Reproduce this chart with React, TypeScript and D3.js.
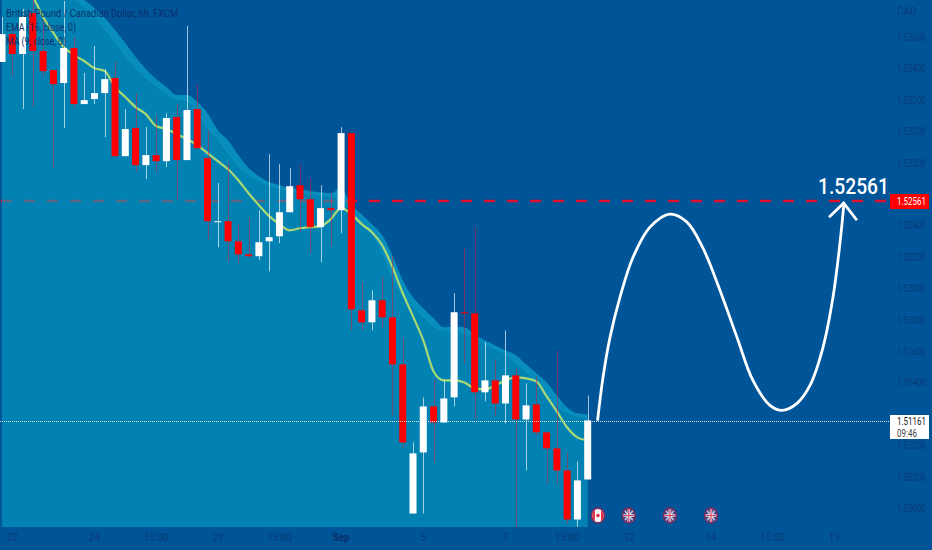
import React from "react";
import * as d3 from "d3";

const opens = [1.53444,1.53622,1.53495,1.53756,1.53514,1.53393,1.53310,1.53533,1.53176,1.53208,1.53246,1.53342,1.52844,1.53023,1.52787,1.52851,1.52812,1.53093,1.52819,1.53144,1.52832,1.52424,1.52430,1.52302,1.52219,1.52207,1.52302,1.52334,1.52487,1.52659,1.52570,1.52392,1.52513,1.52500,1.52991,1.51862,1.51786,1.51926,1.51818,1.51518,1.50568,1.50957,1.51250,1.51148,1.51308,1.51850,1.51843,1.51340,1.51416,1.51269,1.51448,1.51167,1.51263,1.51085,1.50983,1.50842,1.50530,1.50785];
const closes = [1.53622,1.53495,1.53731,1.53514,1.53386,1.53303,1.53533,1.53176,1.53201,1.53246,1.53335,1.52844,1.53017,1.52787,1.52851,1.52812,1.53087,1.52819,1.53138,1.52895,1.52430,1.52430,1.52302,1.52219,1.52207,1.52296,1.52328,1.52487,1.52653,1.52570,1.52392,1.52513,1.52500,1.52991,1.51869,1.51786,1.51926,1.51818,1.51518,1.51021,1.50951,1.51250,1.51148,1.51301,1.51850,1.51843,1.51340,1.51416,1.51269,1.51448,1.51167,1.51257,1.51085,1.50983,1.50842,1.50530,1.50779,1.51161];
const highs = [1.53731,1.53667,1.53782,1.53839,1.53711,1.53393,1.53833,1.53603,1.53374,1.53546,1.53399,1.53450,1.53144,1.53246,1.53029,1.53106,1.53118,1.53176,1.53673,1.53303,1.53010,1.52672,1.52800,1.52411,1.52455,1.52500,1.52857,1.52793,1.52768,1.52793,1.52704,1.52659,1.52608,1.53029,1.52991,1.52041,1.51990,1.52079,1.52207,1.51684,1.51021,1.51308,1.51422,1.51416,1.51971,1.52258,1.52392,1.51658,1.51550,1.51735,1.51493,1.51397,1.51442,1.51085,1.51607,1.50957,1.50900,1.51320];
const lows = [1.53444,1.53354,1.53144,1.53157,1.53354,1.52768,1.53023,1.53150,1.53176,1.53176,1.52965,1.52838,1.52844,1.52742,1.52698,1.52742,1.52774,1.52564,1.52819,1.52895,1.52315,1.52264,1.52175,1.52162,1.52194,1.52181,1.52111,1.52290,1.52487,1.52360,1.52226,1.52168,1.52271,1.52353,1.51735,1.51735,1.51735,1.51754,1.51193,1.50983,1.50568,1.50568,1.50893,1.51148,1.51250,1.51525,1.51167,1.51282,1.51187,1.51142,1.50479,1.50842,1.51065,1.50759,1.50753,1.50498,1.50479,1.50785];
const upperBand = [1.54285,1.54222,1.54158,1.54094,1.54030,1.53979,1.53928,1.53877,1.53839,1.53788,1.53724,1.53648,1.53565,1.53476,1.53399,1.53335,1.53284,1.53233,1.53233,1.53189,1.53118,1.53010,1.52946,1.52851,1.52768,1.52717,1.52679,1.52659,1.52640,1.52634,1.52621,1.52615,1.52608,1.52640,1.52532,1.52475,1.52411,1.52341,1.52213,1.52054,1.51945,1.51875,1.51811,1.51754,1.51760,1.51754,1.51709,1.51671,1.51639,1.51607,1.51576,1.51518,1.51461,1.51403,1.51320,1.51244,1.51206,1.51199];
const innerBand = [1.54222,1.54158,1.54094,1.54030,1.53979,1.53928,1.53877,1.53839,1.53788,1.53724,1.53648,1.53565,1.53476,1.53399,1.53335,1.53284,1.53233,1.53200,1.53189,1.53118,1.53010,1.52946,1.52851,1.52768,1.52717,1.52679,1.52650,1.52630,1.52615,1.52605,1.52595,1.52590,1.52580,1.52560,1.52475,1.52411,1.52341,1.52213,1.52054,1.51945,1.51875,1.51811,1.51754,1.51730,1.51730,1.51709,1.51671,1.51639,1.51607,1.51576,1.51518,1.51461,1.51403,1.51320,1.51244,1.51206,1.51180,1.51170];
const ema = [1.54126,1.54030,1.53935,1.53858,1.53731,1.53629,1.53539,1.53488,1.53450,1.53405,1.53386,1.53284,1.53221,1.53157,1.53112,1.53036,1.53017,1.52985,1.52953,1.52914,1.52863,1.52812,1.52761,1.52691,1.52608,1.52532,1.52462,1.52411,1.52372,1.52385,1.52392,1.52398,1.52443,1.52513,1.52475,1.52411,1.52360,1.52277,1.52137,1.51971,1.51824,1.51671,1.51473,1.51416,1.51416,1.51403,1.51365,1.51358,1.51384,1.51416,1.51435,1.51429,1.51410,1.51314,1.51218,1.51116,1.51053,1.51034];

const forecastIdx = [57.97,58.49,59.17,60.14,61.41,63.06,65.0,66.66,68.22,69.87,71.53,73.08,74.74,75.9,77.37,78.63,79.9,80.87,81.55,81.94];
const forecastPrice = [1.51167,1.51435,1.5169,1.51945,1.522,1.52392,1.52475,1.52424,1.52258,1.5199,1.5169,1.51416,1.51257,1.51225,1.5127,1.51384,1.51627,1.51945,1.5229,1.52545];
const arrowIdx = [80.48,81.91,83.2];
const arrowPrice = [1.52455,1.52545,1.52436];

const priceTicks = [1.536,1.534,1.532,1.53,1.528,1.524,1.522,1.52,1.518,1.516,1.514,1.51,1.508,1.506];
const timeTicks: [number, string, boolean][] = [[1,"22",false],[9,"24",false],[15,"15:00",false],[21,"29",false],[27,"15:00",false],[33,"Sep",true],[41,"5",false],[49,"7",false],[55,"15:00",false],[61,"12",false],[69,"14",false],[75,"15:00",false],[81,"19",false]];
const events: [number, string][] = [[58,"CA"],[61,"GB"],[65,"GB"],[69,"GB"]];
const legend = ["British Pound / Canadian Dollar, 6h, FXCM","EMA (16, close, 0)","MA (9, close, 0)"];
const legendWidths = [172,70,60];
const targetPrice = 1.52561;
const lastPrice = 1.51161;

const W = 932, H = 550, PLOT_B = 527, PLOT_R = 890;
const BG = "#005498", AXIS = "#0b3a78", FONT = "Roboto, 'Liberation Sans', sans-serif";
const NARROW = 0.8;

export default function App() {
  const x = d3.scaleLinear().domain([0, 57]).range([2, 587.7]);
  const y = d3.scaleLinear().domain([1.536, 1.506]).range([37.5, 508.5]);
  const idx = d3.range(opens.length);
  const stripArea = d3.area<number>().x(i => x(i)).y0(i => y(innerBand[i])).y1(i => y(upperBand[i])).curve(d3.curveMonotoneX);
  const mainArea = d3.area<number>().x(i => x(i)).y0(PLOT_B).y1(i => y(innerBand[i])).curve(d3.curveMonotoneX);
  const emaLine = d3.line<number>().x(i => x(i)).y(i => y(ema[i])).curve(d3.curveMonotoneX);
  const forecast = d3.line<number>().x((_, k) => x(forecastIdx[k])).y((_, k) => y(forecastPrice[k])).curve(d3.curveCatmullRom);
  const arrow = d3.line<number>().x((_, k) => x(arrowIdx[k])).y((_, k) => y(arrowPrice[k]));
  const tY = y(targetPrice) + 0.4;
  const lY = Math.ceil(y(lastPrice)) + 0.5;
  return (
    <svg width={W} height={H} style={{ position: "absolute", left: 0, top: 0, fontFamily: FONT }}>
      <defs>
        <clipPath id="plot"><rect x={0} y={0} width={PLOT_R} height={PLOT_B} /></clipPath>
        <clipPath id="ev"><ellipse cx={0} cy={0} rx={5.6} ry={6.6} /></clipPath>
      </defs>
      <rect width={W} height={H} fill={BG} />
      <g clipPath="url(#plot)">
        <line x1={1} x2={PLOT_R} y1={tY} y2={tY} stroke="#e0102e" strokeWidth={2.6} strokeDasharray="11 12" />
        <path d={stripArea(idx) ?? ""} fill="rgb(13,181,212)" fillOpacity={0.6} />
        <path d={mainArea(idx) ?? ""} fill="rgb(3,161,197)" fillOpacity={0.6} />
        <path d={emaLine(idx) ?? ""} fill="none" stroke="#a9d975" strokeWidth={2.2} />
        {idx.map(i => {
          const up = closes[i] >= opens[i];
          const cx = Math.round(x(i)) + 0.5;
          return <line key={i} x1={cx} x2={cx} y1={y(highs[i])} y2={y(lows[i])} stroke={up ? "#ffffff" : "#d81a38"} strokeOpacity={up ? 0.65 : 0.5} strokeWidth={1} />;
        })}
        {idx.map(i => {
          const up = closes[i] >= opens[i];
          const t = y(Math.max(opens[i], closes[i]));
          const b = y(Math.min(opens[i], closes[i]));
          return <rect key={i} x={x(i) - 3.5} y={t} width={7} height={Math.max(b - t, 1)} fill={up ? "#ffffff" : "#ff0000"} />;
        })}
      </g>
      <line x1={0} x2={PLOT_R} y1={lY} y2={lY} stroke="#ffffff" strokeOpacity={0.85} strokeWidth={1} strokeDasharray="1 1" />
      <path d={forecast(forecastIdx) ?? ""} fill="none" stroke="#ffffff" strokeWidth={2.8} strokeLinecap="round" />
      <path d={arrow(arrowIdx) ?? ""} fill="none" stroke="#ffffff" strokeWidth={2.8} />
      <text x={818} y={194} fill="#ffffff" fontSize={22.5} fontWeight={500} textLength={71} lengthAdjust="spacingAndGlyphs">1.52561</text>

      {legend.map((t, i) => (
        <text key={t} x={6} y={17 + i * 14} fontSize={10.5} fill="#0c2f6a" textLength={legendWidths[i]} lengthAdjust="spacingAndGlyphs">{t}</text>
      ))}

      <text x={897} y={15} fontSize={10} fill={AXIS}>CAD</text>
      {priceTicks.map(p => (
        <text key={p} transform={`translate(897,${y(p) + 3.5}) scale(${NARROW},1)`} fontSize={10} fill={AXIS}>{p.toFixed(5)}</text>
      ))}
      {timeTicks.map(([i, t, bold]) => (
        <text key={i} x={x(i)} y={541} fontSize={10} textAnchor="middle" fontWeight={bold ? 700 : 400} fill={bold ? "#0c2f6a" : AXIS}>{t}</text>
      ))}

      {events.map(([i, code]) => (
        <g key={i} transform={`translate(${x(i)},515.5)`}>
          <ellipse rx={7.2} ry={8.2} fill="#7a2c5c" />
          <g clipPath="url(#ev)">
            {code === "CA" ? (
              <g>
                <rect x={-6} y={-7} width={12} height={14} fill="#ffffff" />
                <rect x={-6} y={-7} width={3} height={14} fill="#e03040" />
                <rect x={3} y={-7} width={3} height={14} fill="#e03040" />
                <circle r={1.8} fill="#e03040" />
              </g>
            ) : (
              <g>
                <rect x={-6} y={-7} width={12} height={14} fill="#32418c" />
                <path d="M-6,-7L6,7M6,-7L-6,7" stroke="#c8c4dc" strokeWidth={1.6} />
                <path d="M0,-7V7M-6,0H6" stroke="#f0e4ea" strokeWidth={2.6} />
                <path d="M0,-7V7M-6,0H6" stroke="#d84a60" strokeWidth={1.2} />
              </g>
            )}
          </g>
        </g>
      ))}

      <rect x={890} y={194} width={39} height={15} fill="#ff0000" />
      <text transform={`translate(897,205) scale(${NARROW},1)`} fontSize={10} fill="#ffffff">1.52561</text>
      <rect x={890} y={415} width={39} height={24} fill="#ffffff" />
      <text transform={`translate(897,425) scale(${NARROW},1)`} fontSize={10} fill="#1a1a1a">1.51161</text>
      <text transform={`translate(897,437) scale(${NARROW},1)`} fontSize={10} fill="#444444">09:46</text>
    </svg>
  );
}
